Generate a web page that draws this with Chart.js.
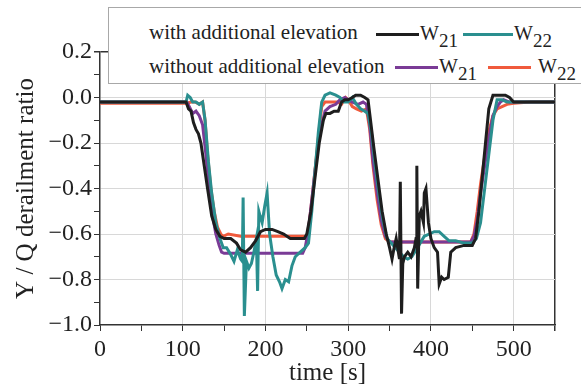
<!DOCTYPE html>
<html>
<head>
<meta charset="utf-8">
<script src="https://cdn.jsdelivr.net/npm/chart.js@4.4.1/dist/chart.umd.min.js"></script>
<style>
  body { margin: 0; background: #fff; overflow: hidden; }
  #wrap { position: relative; width: 581px; height: 388px; overflow: hidden; }
  #legend {
    position: absolute; left: 108px; top: 7px; width: 500px; height: 75px;
    background: #fff; border: 1px solid #a8a8a8;
    font-family: "Liberation Serif", serif; font-size: 21px; color: #222;
  }
  #legend span { position: absolute; white-space: nowrap; line-height: 20px; }
  #legend span.w { font-size: 20px; }
  #legend i { position: absolute; height: 3px; }
  #legend sub { font-size: 19px; vertical-align: -7px; line-height: 0; }
</style>
</head>
<body>
<div id="wrap">
  <canvas id="yqChart" width="581" height="388"></canvas>
  <div id="legend">
    <span style="left:40px; top:14px">with additional elevation</span>
    <i style="left:267px; top:25px; width:43px; background:#1e1e1e"></i>
    <span class="w" style="left:311px; top:15px">W<sub>21</sub></span>
    <i style="left:354px; top:25px; width:50px; background:#2a8f8f"></i>
    <span class="w" style="left:405px; top:15px">W<sub>22</sub></span>
    <span style="left:40px; top:48px">without additional elevation</span>
    <i style="left:286px; top:58px; width:43px; background:#7a3b96"></i>
    <span class="w" style="left:330px; top:48px">W<sub>21</sub></span>
    <i style="left:379px; top:58px; width:43px; background:#f05a3c"></i>
    <span class="w" style="left:429px; top:48px">W<sub>22</sub></span>
  </div>
</div>
<script>
// with additional elevation, W21 (black)
const withW21T = [0, 104, 107, 110, 113, 116, 119, 122, 126, 130, 135, 140, 145, 150, 158, 165, 170, 176, 182, 188, 194, 200, 208, 215, 222, 230, 240, 247, 250, 255, 260, 265, 270, 273, 278, 283, 288, 292, 296, 300, 305, 309, 315, 320, 324, 327, 331, 336, 341, 346, 350, 353, 355, 358, 362, 363, 364.5, 366, 368, 372, 376, 380, 382, 383, 384, 386, 388, 391, 392, 394, 397, 400, 404, 408, 410, 413, 416, 421, 424, 430, 440, 450, 454, 458, 462, 466, 470, 475, 480, 490, 495, 500, 510, 550];
const withW21Y = [-0.02, -0.02, -0.05, -0.06, -0.11, -0.14, -0.16, -0.2, -0.3, -0.4, -0.52, -0.58, -0.61, -0.62, -0.62, -0.64, -0.67, -0.68, -0.66, -0.63, -0.59, -0.58, -0.58, -0.59, -0.6, -0.62, -0.62, -0.62, -0.6, -0.5, -0.35, -0.2, -0.1, -0.07, -0.07, -0.06, -0.06, -0.02, -0.01, -0.01, 0.0, 0.01, 0.01, 0.0, -0.01, -0.1, -0.22, -0.36, -0.5, -0.6, -0.66, -0.71, -0.67, -0.62, -0.71, -0.37, -0.95, -0.73, -0.7, -0.68, -0.7, -0.66, -0.62, -0.3, -0.84, -0.52, -0.5, -0.55, -0.42, -0.4, -0.55, -0.62, -0.66, -0.68, -0.82, -0.79, -0.8, -0.79, -0.68, -0.66, -0.65, -0.65, -0.62, -0.5, -0.35, -0.2, -0.05, 0.01, 0.01, 0.01, 0.0, -0.02, -0.02, -0.02];

// with additional elevation, W22 (teal)
const withW22T = [0, 104, 106, 109, 112, 116, 120, 124, 127, 131, 135, 140, 145, 149, 153, 158, 162, 166, 170, 172, 173, 174.5, 177, 180, 183, 186, 189, 190.5, 192, 193.5, 196, 199, 202, 205, 209, 213, 217, 220, 224, 228, 232, 236, 242, 248, 252, 256, 260, 264, 268, 272, 278, 285, 290, 295, 300, 305, 310, 315, 320, 324, 328, 332, 337, 342, 347, 352, 357, 362, 367, 372, 377, 382, 387, 392, 398, 404, 410, 416, 422, 430, 440, 450, 455, 460, 465, 470, 475, 480, 486, 492, 500, 550];
const withW22Y = [-0.02, -0.02, 0.01, 0.0, -0.02, -0.02, -0.03, -0.02, -0.1, -0.28, -0.42, -0.55, -0.62, -0.66, -0.66, -0.69, -0.72, -0.67, -0.71, -0.72, -0.44, -0.96, -0.72, -0.75, -0.73, -0.68, -0.62, -0.85, -0.5, -0.52, -0.55, -0.48, -0.42, -0.6, -0.7, -0.78, -0.81, -0.84, -0.8, -0.81, -0.74, -0.7, -0.68, -0.66, -0.64, -0.5, -0.32, -0.15, -0.02, 0.01, 0.02, 0.01, 0.0, -0.02, -0.02, 0.0, -0.03, -0.05, -0.06, -0.07, -0.15, -0.28, -0.42, -0.54, -0.62, -0.64, -0.66, -0.68, -0.7, -0.71, -0.7, -0.67, -0.64, -0.61, -0.6, -0.59, -0.59, -0.61, -0.63, -0.63, -0.64, -0.64, -0.62, -0.55, -0.4, -0.25, -0.1, -0.01, -0.01, -0.02, -0.02, -0.02];

// without additional elevation, W21 (purple)
const withoutW21T = [0, 105, 108, 112, 116, 120, 124, 128, 132, 136, 140, 144, 147, 150, 245, 248, 252, 256, 260, 264, 268, 272, 278, 285, 290, 296, 300, 305, 312, 318, 322, 326, 330, 335, 340, 345, 350, 355, 448, 452, 456, 460, 465, 470, 475, 480, 484, 488, 495, 550];
const withoutW21Y = [-0.02, -0.02, -0.04, -0.07, -0.06, -0.08, -0.12, -0.25, -0.4, -0.52, -0.6, -0.65, -0.68, -0.685, -0.685, -0.66, -0.58, -0.45, -0.32, -0.2, -0.12, -0.06, -0.04, -0.03, -0.01, 0.0, -0.01, -0.02, -0.03, -0.02, -0.03, -0.12, -0.28, -0.42, -0.54, -0.61, -0.635, -0.635, -0.635, -0.61, -0.54, -0.42, -0.3, -0.18, -0.08, -0.04, -0.02, -0.01, -0.02, -0.02];

// without additional elevation, W22 (orange)
const withoutW22T = [0, 105, 110, 115, 120, 124, 127, 130, 134, 138, 142, 146, 149, 155, 170, 200, 230, 250, 253, 257, 261, 265, 268, 272, 280, 287, 292, 297, 300, 305, 310, 316, 322, 326, 330, 335, 340, 345, 350, 355, 448, 452, 456, 460, 465, 470, 475, 480, 486, 492, 500, 520, 550];
const withoutW22Y = [-0.025, -0.025, -0.02, -0.02, -0.03, -0.02, -0.1, -0.25, -0.4, -0.5, -0.57, -0.6, -0.61, -0.6, -0.61, -0.61, -0.61, -0.61, -0.55, -0.42, -0.28, -0.14, -0.04, -0.02, -0.02, -0.02, -0.03, 0.0, -0.01, -0.04, -0.05, -0.06, -0.05, -0.14, -0.3, -0.45, -0.56, -0.62, -0.635, -0.635, -0.635, -0.6, -0.5, -0.38, -0.26, -0.15, -0.08, -0.05, -0.04, -0.03, -0.025, -0.02, -0.02];

const xTickLabels = [0, 100, 200, 300, 400, 500];
const yTickLabels = ['0.2', '0.0', '-0.2', '-0.4', '-0.6', '-0.8', '-1.0'];

function toPoints(ts, ys) {
    return ts.map((t, i) => ({ x: t, y: ys[i] }));
}

const serif = '"Liberation Serif", serif';

function series(label, ts, ys, color) {
    return {
        label: label,
        data: toPoints(ts, ys),
        borderColor: color,
        borderWidth: 3,
        pointRadius: 0,
        tension: 0
    };
}

const ctx = document.getElementById('yqChart').getContext('2d');

new Chart(ctx, {
    type: 'line',
    data: {
        datasets: [
            series('with W21', withW21T, withW21Y, '#1e1e1e'),
            series('with W22', withW22T, withW22Y, '#2a8f8f'),
            series('without W21', withoutW21T, withoutW21Y, '#7a3b96'),
            series('without W22', withoutW22T, withoutW22Y, '#f05a3c')
        ]
    },
    options: {
        responsive: false,
        animation: false,
        layout: { padding: { left: 0, right: 26, top: 52, bottom: 0 } },
        plugins: {
            legend: { display: false },
            tooltip: { enabled: false }
        },
        scales: {
            x: {
                type: 'linear',
                min: 0,
                max: 550,
                afterFit: function(scale) { scale.height = 63; },
                ticks: {
                    stepSize: 50,
                    autoSkip: false,
                    maxRotation: 0,
                    padding: 4,
                    color: '#222',
                    font: { family: serif, size: 24 },
                    callback: function(v) {
                        return xTickLabels.includes(v) ? String(v) : '';
                    }
                },
                grid: {
                    tickLength: 6,
                    tickColor: '#333',
                    color: function(c) {
                        const v = c.tick.value;
                        if (v === 550) return '#333';
                        if (v === 0 || v % 100 !== 0) return 'rgba(0,0,0,0)';
                        return '#d8d8d8';
                    },
                    lineWidth: function(c) { return c.tick.value === 550 ? 1.5 : 1; }
                },
                border: { color: '#333', width: 1.5 },
                title: {
                    display: true,
                    text: 'time [s]',
                    color: '#222',
                    font: { family: serif, size: 25 },
                    padding: { top: 0, bottom: 0 }
                }
            },
            y: {
                min: -1.0,
                max: 0.2,
                afterFit: function(scale) { scale.width = 100; },
                ticks: {
                    stepSize: 0.1,
                    autoSkip: false,
                    padding: 2,
                    color: '#222',
                    font: { family: serif, size: 24 },
                    callback: function(v) {
                        const s = (Math.round(v * 10) / 10).toFixed(1);
                        const txt = s === '-0.0' ? '0.0' : s;
                        // typeset with a true minus sign, as in the figure
                        return yTickLabels.includes(txt) ? txt.replace('-', '\u2212') : '';
                    }
                },
                grid: {
                    tickLength: 6,
                    tickColor: '#333',
                    color: function(c) {
                        const k = Math.round(c.tick.value * 10);
                        if (k === 2) return '#333';
                        if (k === -10 || k % 2 !== 0) return 'rgba(0,0,0,0)';
                        return '#d8d8d8';
                    },
                    lineWidth: function(c) { return Math.round(c.tick.value * 10) === 2 ? 1.5 : 1; }
                },
                border: { color: '#333', width: 1.5 },
                title: {
                    display: true,
                    text: 'Y / Q derailment ratio',
                    color: '#222',
                    font: { family: serif, size: 25 },
                    padding: { top: 11, bottom: 0 }
                }
            }
        }
    }
});
</script>
</body>
</html>
